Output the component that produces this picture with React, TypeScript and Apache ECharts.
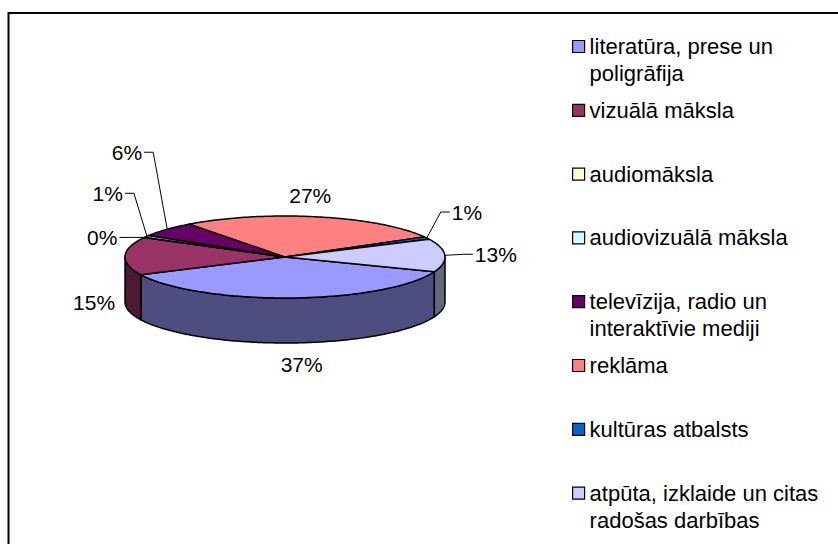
import React, { useEffect, useRef } from 'react';
import * as echarts from 'echarts';

// ---- data ----
const categories = [
  'literatūra, prese un\npoligrāfija',
  'vizuālā māksla',
  'audiomāksla',
  'audiovizuālā māksla',
  'televīzija, radio un\ninteraktīvie mediji',
  'reklāma',
  'kultūras atbalsts',
  'atpūta, izklaide un citas\nradošas darbības',
];
const shares = [37, 15, 0.2, 0.8, 6, 27, 1, 13];

// ---- styles / layout ----
const colors = ['#9999FF', '#993366', '#FFFFCC', '#CCFFFF', '#660066', '#FF8080', '#0066CC', '#CCCCFF'];
const CX = 285;
const CY = 257;
const RX = 160;
const RY = 41;
const DEPTH = 45;
const START = 21; // degrees, clockwise from 3 o'clock
const FONT = 'Liberation Sans, Arial, sans-serif';

// label placement relative to the rim point at the middle angle of each slice
const labelPlacement = [
  { dx: 10, dy: 67, align: 'center', leader: false },
  { dx: -31, dy: 46, align: 'center', leader: false },
  { dx: -27, dy: 0, align: 'right', leader: true },
  { dx: -24, dy: -43, align: 'right', leader: true },
  { dx: -25, dy: -77, align: 'right', leader: true },
  { dx: -8, dy: -21, align: 'center', leader: false },
  { dx: 25, dy: -26, align: 'left', leader: true },
  { dx: 30, dy: -1, align: 'left', leader: true },
];

const LEGEND_FIRST = 46.5;
const LEGEND_STEP = 63.8;
const LH = 27;

function shade(hex: string, f = 0.5) {
  const n = parseInt(hex.slice(1), 16);
  const r = Math.round(((n >> 16) & 255) * f);
  const g = Math.round(((n >> 8) & 255) * f);
  const b = Math.round((n & 255) * f);
  return `rgb(${r},${g},${b})`;
}

const total = shares.reduce((a, b) => a + b, 0);
const cum = shares.map((_, i) => shares.slice(0, i).reduce((a, b) => a + b, 0));

function pt(deg: number, dy = 0): number[] {
  const r = (deg * Math.PI) / 180;
  return [CX + RX * Math.cos(r), CY + RY * Math.sin(r) + dy];
}
function arc(a0: number, a1: number, dy = 0): number[][] {
  const n = Math.max(2, Math.ceil(Math.abs(a1 - a0)));
  const pts: number[][] = [];
  for (let k = 0; k <= n; k++) pts.push(pt(a0 + ((a1 - a0) * k) / n, dy));
  return pts;
}

function makeRender(i: number) {
  return (params: any, api: any) => {
    const v = api.value(0);
    const a0 = START + (cum[i] / total) * 360;
    const a1 = a0 + (v / total) * 360;
    const children: any[] = [];
    const ranges = [
      [0, 180],
      [360, 540],
    ];
    for (const [f0, f1] of ranges) {
      const s = Math.max(a0, f0);
      const e = Math.min(a1, f1);
      if (e > s) {
        const top = arc(s, e);
        const bot = arc(e, s, DEPTH);
        children.push({
          type: 'polygon',
          shape: { points: top.concat(bot) },
          style: { fill: shade(colors[i]), stroke: '#000', lineWidth: 1.5, lineJoin: 'round' },
        });
      }
    }
    children.push({
      type: 'polygon',
      shape: { points: [[CX, CY]].concat(arc(a0, a1)) },
      style: { fill: colors[i], stroke: '#000', lineWidth: 1.5, lineJoin: 'round' },
    });
    const mid = (a0 + a1) / 2;
    const [ax, ay] = pt(mid);
    const lp = labelPlacement[i];
    const lx = ax + lp.dx;
    const ly = ay + lp.dy;
    if (lp.leader) {
      const sgn = lp.align === 'right' ? 1 : -1;
      children.push({
        type: 'polyline',
        shape: { points: [[lx + sgn * 2, ly], [lx + sgn * 11, ly], [ax, ay]] },
        style: { stroke: '#000', lineWidth: 1, fill: null },
      });
    }
    children.push({
      type: 'text',
      x: lx,
      y: ly,
      style: {
        text: Math.round((v / total) * 100) + '%',
        fill: '#000',
        fontSize: 21,
        fontFamily: FONT,
        align: lp.align,
        verticalAlign: 'middle',
      },
    });
    return { type: 'group', children };
  };
}

export default function App() {
  const ref = useRef<HTMLDivElement>(null);
  useEffect(() => {
    if (!ref.current) return;
    const chart = echarts.init(ref.current, undefined, { renderer: 'svg' });
    chart.setOption({
      animation: false,
      color: colors,
      graphic: [
        {
          type: 'rect',
          shape: { x: 8.5, y: 13, width: 900, height: 600 },
          style: { fill: 'none', stroke: '#000', lineWidth: 2 },
          z: 0,
        },
      ],
      legend: categories.map((name, i) => {
        const lines = name.split('\n').length;
        const h = lines > 1 ? 3 * LH : LH;
        return {
          show: true,
          data: [name],
          left: 572,
          top: LEGEND_FIRST + i * LEGEND_STEP - h / 2,
          orient: 'vertical',
          padding: 0,
          itemWidth: 12,
          itemHeight: 12,
          selectedMode: false,
          icon: 'rect',
          itemStyle: { borderColor: '#000', borderWidth: 1.2 },
          textStyle: { fontSize: 22, fontFamily: FONT, color: '#000', lineHeight: LH },
          formatter: (n: string) => (n.includes('\n') ? ' \n' + n : n),
        };
      }),
      series: categories.map((name, i) => ({
        type: 'custom',
        name,
        coordinateSystem: 'none',
        silent: true,
        data: [shares[i]],
        itemStyle: { color: colors[i] },
        renderItem: makeRender(i),
      })),
    });
    return () => chart.dispose();
  }, []);
  return (
    <div
      ref={ref}
      style={{ position: 'absolute', left: 0, top: 0, width: 838, height: 544, background: '#fff' }}
    />
  );
}
